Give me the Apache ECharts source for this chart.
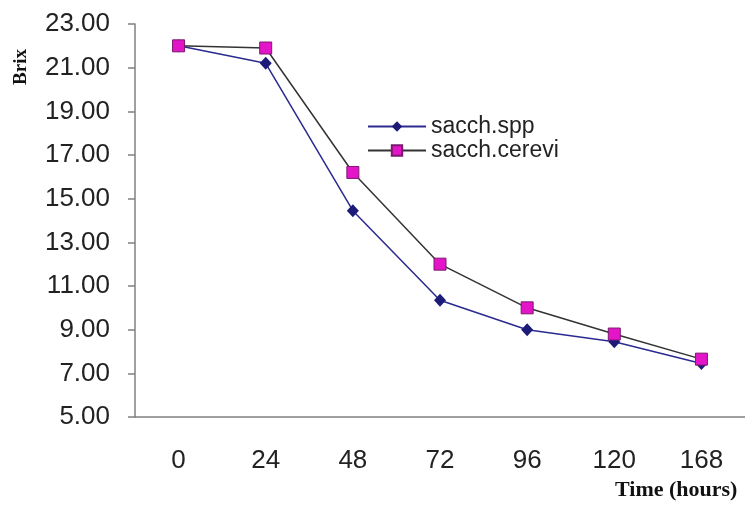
<!DOCTYPE html>
<html>
<head>
<meta charset="utf-8">
<script src="https://cdn.jsdelivr.net/npm/echarts@6/dist/echarts.min.js"></script>
<style>html,body{margin:0;padding:0;background:#fff}#c{width:745px;height:506px}</style>
</head>
<body>
<div id="c"></div>
<script>
const categories = ['0', '24', '48', '72', '96', '120', '168'];
const sacchSpp = [22.0, 21.2, 14.45, 10.35, 9.0, 8.45, 7.45];
const sacchCerevi = [22.0, 21.9, 16.2, 12.0, 10.0, 8.8, 7.65];
const seriesNames = ['sacch.spp', 'sacch.cerevi'];
const yMin = 5, yMax = 23, yStep = 2;

const chart = echarts.init(document.getElementById('c'), null, {renderer: 'canvas'});
chart.setOption({
  animation: false,
  backgroundColor: '#ffffff',
  grid: {left: 135, top: 24, right: -4, bottom: 89, containLabel: false},
  xAxis: {
    type: 'category',
    data: categories,
    boundaryGap: true,
    axisLine: {lineStyle: {color: '#808080', width: 1.5}},
    axisTick: {length: 7, lineStyle: {color: '#808080', width: 1.5}},
    axisLabel: {margin: 31, fontFamily: 'Liberation Sans', fontSize: 26, color: '#222'},
    splitLine: {show: false}
  },
  yAxis: {
    type: 'value',
    min: yMin, max: yMax, interval: yStep,
    axisLine: {show: true, lineStyle: {color: '#808080', width: 1.5}},
    axisTick: {show: true, length: 7, lineStyle: {color: '#808080', width: 1.5}},
    axisLabel: {margin: 25, fontFamily: 'Liberation Sans', fontSize: 26, color: '#222',
      formatter: v => v.toFixed(2)},
    splitLine: {show: false}
  },
  legend: {
    orient: 'vertical',
    left: 362, top: 110,
    itemWidth: 58, itemHeight: 13, itemGap: 1,
    textStyle: {fontFamily: 'Liberation Sans', fontSize: 23, lineHeight: 20, color: '#222'},
    data: seriesNames
  },
  graphic: [
    {type: 'text', left: 615, top: 479,
     style: {text: 'Time (hours)', font: 'bold 22px "Liberation Serif"', fill: '#111'}},
    {type: 'text', x: 21, y: 67, rotation: Math.PI / 2,
     style: {text: 'Brix', font: 'bold 19px "Liberation Serif"', fill: '#111', align: 'center', verticalAlign: 'middle'}}
  ],
  series: [
    {
      name: seriesNames[0], type: 'line', data: sacchSpp,
      symbol: 'diamond', symbolSize: [12, 13],
      itemStyle: {color: '#1c1c78'},
      lineStyle: {color: '#2a2a90', width: 1.5}
    },
    {
      name: seriesNames[1], type: 'line', data: sacchCerevi,
      symbol: 'rect', symbolSize: 12,
      itemStyle: {color: '#e414c8', borderColor: '#7a1a6e', borderWidth: 1},
      lineStyle: {color: '#333333', width: 1.5}
    }
  ]
});
</script>
</body>
</html>
